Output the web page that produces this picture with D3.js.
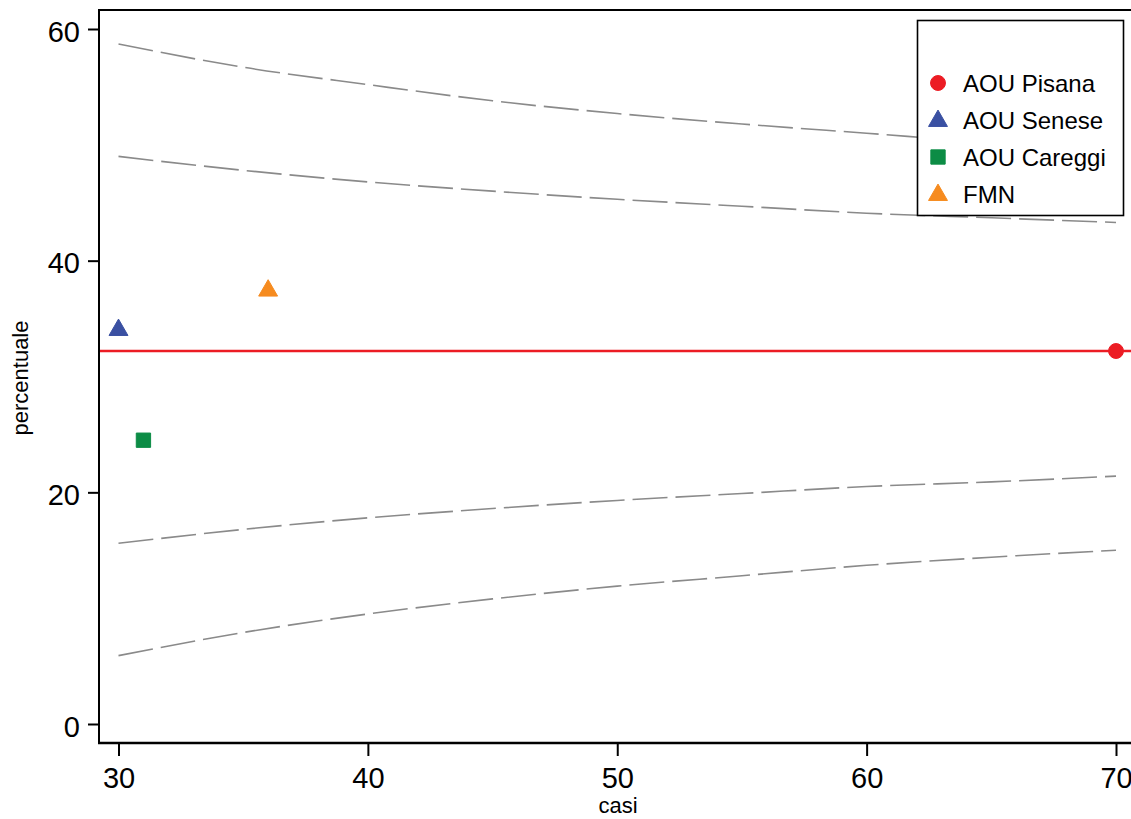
<!DOCTYPE html>
<html>
<head>
<meta charset="utf-8">
<script src="https://cdn.jsdelivr.net/npm/d3@7"></script>
<style>
  html, body { margin: 0; padding: 0; background: #fff; }
  svg { display: block; }
  text { font-family: "Liberation Sans", Arial, sans-serif; fill: #000; }
</style>
</head>
<body>
<svg id="chart" width="1131" height="819"></svg>
<script>
// ---- data ----
const casiTicks = [30, 40, 50, 60, 70];
const percTicks = [0, 20, 40, 60];
const reference = 32.2;

const limitCasi = [30, 35, 40, 45, 50, 55, 60, 65, 70];
const upper998 = [58.7, 56.7, 55.2, 53.8, 52.7, 51.8, 51.0, 50.2, 49.6];
const upper95  = [49.0, 47.8, 46.8, 46.0, 45.3, 44.7, 44.1, 43.7, 43.3];
const lower95  = [15.6, 16.8, 17.8, 18.6, 19.3, 19.9, 20.5, 20.9, 21.4];
const lower998 = [5.9, 7.9, 9.5, 10.8, 11.9, 12.8, 13.7, 14.4, 15.0];

const hospitals = ["AOU Pisana", "AOU Senese", "AOU Careggi", "FMN"];
const hospCasi  = [70, 30, 31, 36];
const hospPerc  = [32.2, 34.1, 24.5, 37.5];
const hospShape = ["circle", "triangle", "square", "triangle"];
const hospColor = ["#EC1C24", "#3A50A2", "#0C8C45", "#F68B1F"];

// ---- layout ----
const svg = d3.select("#chart");
const pLeft = 99, pTop = 10, pBottom = 743, pRight = 1136;

const x = d3.scaleLinear().domain([30, 70]).range([118.5, 1116]);
const y = d3.scaleLinear().domain([0, 60]).range([724, 29]);

// frame (top line + left/bottom axis lines)
svg.append("path")
  .attr("d", `M${pLeft},${pBottom}V${pTop}H${pRight}`)
  .attr("fill", "none").attr("stroke", "#000").attr("stroke-width", 2);
svg.append("line")
  .attr("x1", pLeft - 1).attr("x2", pRight).attr("y1", pBottom).attr("y2", pBottom)
  .attr("stroke", "#000").attr("stroke-width", 2.5);

// y axis
const yAxis = d3.axisLeft(y).tickValues(percTicks).tickSize(11).tickPadding(8);
const gy = svg.append("g").attr("transform", `translate(${pLeft},0)`).call(yAxis);
gy.select(".domain").remove();
gy.selectAll(".tick line").attr("stroke", "#000").attr("stroke-width", 2);
gy.selectAll(".tick text")
  .attr("font-family", "Liberation Sans, Arial, sans-serif")
  .attr("font-size", 29).attr("fill", "#000").attr("dy", "0.42em");

// x axis
const xAxis = d3.axisBottom(x).tickValues(casiTicks).tickSize(13).tickPadding(8);
const gx = svg.append("g").attr("transform", `translate(0,${pBottom})`).call(xAxis);
gx.select(".domain").remove();
gx.selectAll(".tick line").attr("stroke", "#000").attr("stroke-width", 2);
gx.selectAll(".tick text")
  .attr("font-family", "Liberation Sans, Arial, sans-serif")
  .attr("font-size", 29).attr("fill", "#000").attr("dy", "0.82em");

// axis titles
svg.append("text").attr("x", 618).attr("y", 813)
  .attr("text-anchor", "middle").attr("font-size", 22).text("casi");
svg.append("text")
  .attr("transform", "translate(28,378) rotate(-90)")
  .attr("text-anchor", "middle").attr("font-size", 22).text("percentuale");

// control limits
const line = d3.line().x(d => x(d[0])).y(d => y(d[1])).curve(d3.curveMonotoneX);
[upper998, upper95, lower95, lower998].forEach(arr => {
  svg.append("path")
    .attr("d", line(limitCasi.map((c, i) => [c, arr[i]])))
    .attr("fill", "none").attr("stroke", "#8a8a8a").attr("stroke-width", 1.6)
    .attr("stroke-dasharray", "35,8");
});

// reference line
svg.append("line")
  .attr("x1", pLeft + 1).attr("x2", pRight).attr("y1", y(reference)).attr("y2", y(reference))
  .attr("stroke", "#EC1C24").attr("stroke-width", 2.5);

// markers
function symbolPath(shape) {
  if (shape === "circle") return d3.symbol().type(d3.symbolCircle).size(175)();
  if (shape === "square") return d3.symbol().type(d3.symbolSquare).size(205)();
  return d3.symbol().type(d3.symbolTriangle).size(155)();
}
hospitals.forEach((h, i) => {
  svg.append("path")
    .attr("d", symbolPath(hospShape[i]))
    .attr("transform", `translate(${x(hospCasi[i])},${y(hospPerc[i]) + (hospShape[i]==="triangle" ? 1 : 0)})`)
    .attr("fill", hospColor[i]).attr("stroke", hospColor[i]).attr("stroke-width", 1)
    .attr("stroke-linejoin", "round");
});

// legend
const lg = svg.append("g");
lg.append("rect").attr("x", 917.5).attr("y", 20.5).attr("width", 206).attr("height", 195)
  .attr("fill", "#fff").attr("stroke", "#000").attr("stroke-width", 1.6);
hospitals.forEach((h, i) => {
  const yy = 83 + i * 37;
  lg.append("path").attr("d", symbolPath(hospShape[i]))
    .attr("transform", `translate(938,${yy + (hospShape[i]==="triangle" ? 1 : 0)})`)
    .attr("fill", hospColor[i]).attr("stroke", hospColor[i]).attr("stroke-width", 1)
    .attr("stroke-linejoin", "round");
  lg.append("text").attr("x", 963).attr("y", yy + 9).attr("font-size", 24).text(h);
});
</script>
</body>
</html>
